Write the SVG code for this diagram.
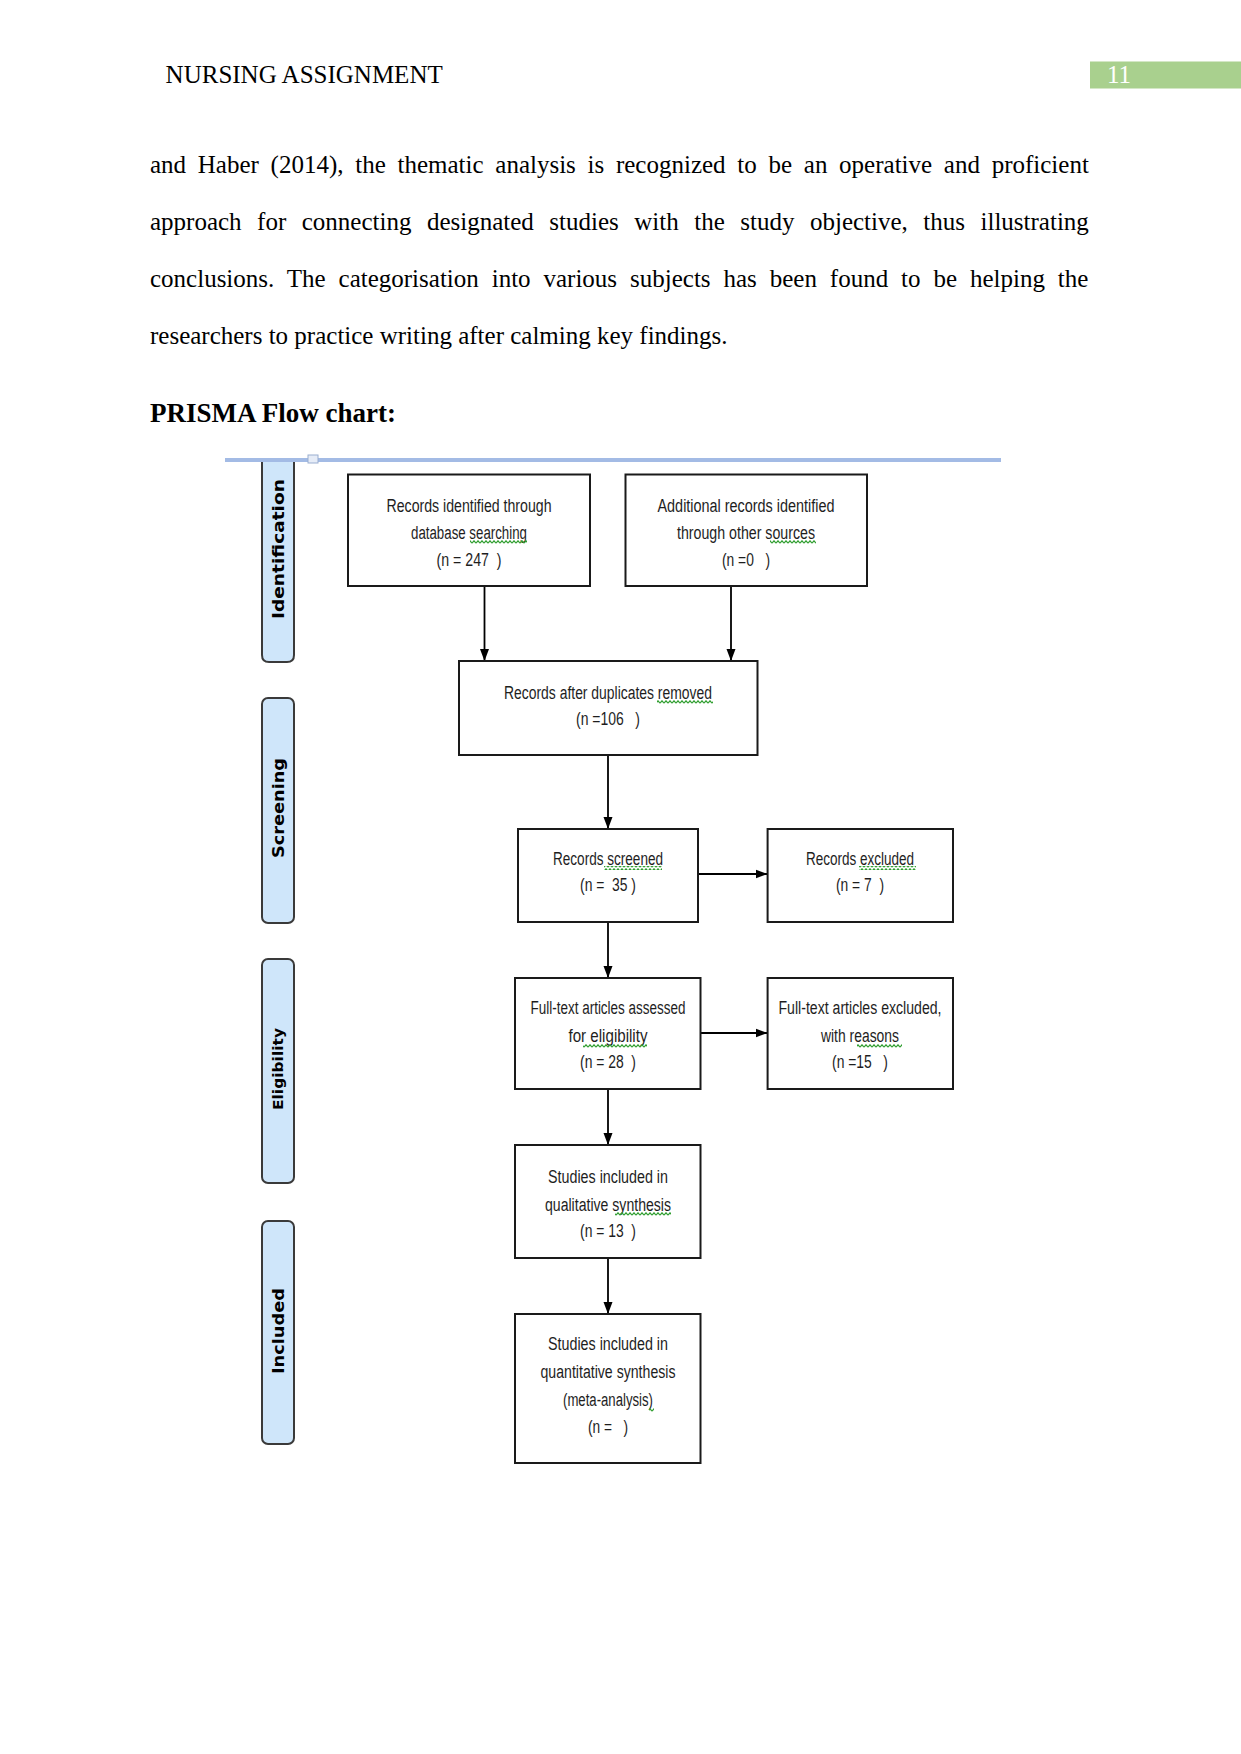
<svg xmlns="http://www.w3.org/2000/svg" width="1241" height="1754" viewBox="0 0 1241 1754">
<style>
.serif{font-family:"Liberation Serif","Times New Roman",serif;font-size:25px;fill:#000}
.bx{fill:#fff;stroke:#1a1a1a;stroke-width:2}
.bt{font-family:"Liberation Sans Narrow","Liberation Sans",Arial,sans-serif;font-size:18px;fill:#1e1e1e;text-anchor:middle;white-space:pre}
.bar{fill:#cfe6fa;stroke:#3a3a3a;stroke-width:2}
.bl{font-family:"DejaVu Sans",Verdana,sans-serif;font-weight:bold;font-size:16px;fill:#000;text-anchor:middle}
.cn{stroke:#000;stroke-width:1.8;fill:none;marker-end:url(#ah)}
.sq{fill:url(#wave)}
</style>
<defs>
<marker id="ah" markerUnits="userSpaceOnUse" markerWidth="12" markerHeight="10" refX="12" refY="5" orient="auto">
<path d="M0,0.5 L12,5 L0,9.5 z" fill="#000"/>
</marker>
<pattern id="wave" patternUnits="userSpaceOnUse" width="4" height="4">
<path d="M0,3.2 L2,0.8 L4,3.2" stroke="#2f9e2f" stroke-width="1.2" fill="none"/>
</pattern>
</defs>
<rect width="1241" height="1754" fill="#fff"/>

<!-- header -->
<text class="serif" x="165.6" y="83">NURSING ASSIGNMENT</text>
<rect x="1090" y="61.5" width="151" height="27" fill="#a9d08e"/>
<text class="serif" x="1107" y="83" style="fill:#fff">11</text>

<!-- body -->
<text class="serif" x="150" y="173" word-spacing="5.47">and Haber (2014), the thematic analysis is recognized to be an operative and proficient</text>
<text class="serif" x="150" y="230" word-spacing="9.25">approach for connecting designated studies with the study objective, thus illustrating</text>
<text class="serif" x="150" y="287" word-spacing="6.67">conclusions. The categorisation into various subjects has been found to be helping the</text>
<text class="serif" x="150" y="344">researchers to practice writing after calming key findings.</text>
<text class="serif" x="150" y="422" style="font-weight:bold;font-size:27px">PRISMA Flow chart:</text>

<!-- phase bars -->
<g id="phase-identification">
<path class="bar" d="M262,461 V655 Q262,662 269,662 H287 Q294,662 294,655 V461"/>
<text class="bl" transform="translate(284,549) rotate(-90)" textLength="140" lengthAdjust="spacingAndGlyphs">Identification</text>
</g>
<g id="phase-screening">
<rect class="bar" x="262" y="698" width="32" height="225" rx="6"/>
<text class="bl" transform="translate(284,808) rotate(-90)" textLength="100" lengthAdjust="spacingAndGlyphs">Screening</text>
</g>
<g id="phase-eligibility">
<rect class="bar" x="262" y="959" width="32" height="224" rx="6"/>
<text class="bl" transform="translate(283,1069) rotate(-90)" style="font-size:14px" textLength="82" lengthAdjust="spacingAndGlyphs">Eligibility</text>
</g>
<g id="phase-included">
<rect class="bar" x="262" y="1221" width="32" height="223" rx="6"/>
<text class="bl" transform="translate(284,1331) rotate(-90)" textLength="86" lengthAdjust="spacingAndGlyphs">Included</text>
</g>

<!-- top rule -->
<line x1="225" y1="460" x2="1001" y2="460" stroke="#a3bbe5" stroke-width="4"/>
<rect x="308" y="455" width="10" height="8" fill="#e6ecf7" stroke="#9aaed0" stroke-width="1"/>

<!-- connectors -->
<g id="connectors">
<line class="cn" x1="484.5" y1="586" x2="484.5" y2="661"/>
<line class="cn" x1="731" y1="586" x2="731" y2="661"/>
<line class="cn" x1="608" y1="755" x2="608" y2="829"/>
<line class="cn" x1="698" y1="874" x2="767.6" y2="874"/>
<line class="cn" x1="608" y1="922" x2="608" y2="978"/>
<line class="cn" x1="700.5" y1="1033" x2="767.6" y2="1033"/>
<line class="cn" x1="608" y1="1089" x2="608" y2="1145"/>
<line class="cn" x1="608" y1="1258" x2="608" y2="1314"/>
</g>

<!-- nodes -->
<g id="node-db">
<rect class="bx" x="348" y="474.5" width="242" height="111.5"/>
<text class="bt" x="469" y="512" textLength="165" lengthAdjust="spacingAndGlyphs">Records identified through</text>
<text class="bt" x="469" y="539" textLength="116" lengthAdjust="spacingAndGlyphs">database searching</text>
<text class="bt" x="469" y="566" textLength="65" lengthAdjust="spacingAndGlyphs">(n = 247  )</text>
<rect class="sq" x="470" y="540" width="57" height="4"/>
</g>
<g id="node-other">
<rect class="bx" x="625.5" y="474.5" width="241.5" height="111.5"/>
<text class="bt" x="746" y="512" textLength="177" lengthAdjust="spacingAndGlyphs">Additional records identified</text>
<text class="bt" x="746" y="539" textLength="138" lengthAdjust="spacingAndGlyphs">through other sources</text>
<text class="bt" x="746" y="566" textLength="48" lengthAdjust="spacingAndGlyphs">(n =0   )</text>
<rect class="sq" x="770" y="540" width="46" height="4"/>
</g>
<g id="node-dedup">
<rect class="bx" x="459" y="661" width="298.5" height="94"/>
<text class="bt" x="608" y="699" textLength="208" lengthAdjust="spacingAndGlyphs">Records after duplicates removed</text>
<text class="bt" x="608" y="725" textLength="64" lengthAdjust="spacingAndGlyphs">(n =106   )</text>
<rect class="sq" x="657" y="700" width="56" height="4"/>
</g>
<g id="node-screened">
<rect class="bx" x="518" y="829" width="180" height="93"/>
<text class="bt" x="608" y="865" textLength="110" lengthAdjust="spacingAndGlyphs">Records screened</text>
<text class="bt" x="608" y="891" textLength="56" lengthAdjust="spacingAndGlyphs">(n =  35 )</text>
<rect class="sq" x="604" y="866" width="58" height="4"/>
</g>
<g id="node-excluded">
<rect class="bx" x="767.6" y="829" width="185.4" height="93"/>
<text class="bt" x="860" y="865" textLength="108" lengthAdjust="spacingAndGlyphs">Records excluded</text>
<text class="bt" x="860" y="891" textLength="48" lengthAdjust="spacingAndGlyphs">(n = 7  )</text>
<rect class="sq" x="859" y="866" width="57" height="4"/>
</g>
<g id="node-fulltext">
<rect class="bx" x="515" y="978" width="185.5" height="111"/>
<text class="bt" x="608" y="1014" textLength="155" lengthAdjust="spacingAndGlyphs">Full-text articles assessed</text>
<text class="bt" x="608" y="1042" textLength="79" lengthAdjust="spacingAndGlyphs">for eligibility</text>
<text class="bt" x="608" y="1068" textLength="56" lengthAdjust="spacingAndGlyphs">(n = 28  )</text>
<rect class="sq" x="583" y="1044" width="64" height="4"/>
</g>
<g id="node-ft-excluded">
<rect class="bx" x="767.6" y="978" width="185.4" height="111"/>
<text class="bt" x="860" y="1014" textLength="163" lengthAdjust="spacingAndGlyphs">Full-text articles excluded,</text>
<text class="bt" x="860" y="1042" textLength="78" lengthAdjust="spacingAndGlyphs">with reasons</text>
<text class="bt" x="860" y="1068" textLength="56" lengthAdjust="spacingAndGlyphs">(n =15   )</text>
<rect class="sq" x="857" y="1044" width="45" height="4"/>
</g>
<g id="node-qualitative">
<rect class="bx" x="515" y="1145" width="185.5" height="113"/>
<text class="bt" x="608" y="1183" textLength="120" lengthAdjust="spacingAndGlyphs">Studies included in</text>
<text class="bt" x="608" y="1211" textLength="126" lengthAdjust="spacingAndGlyphs">qualitative synthesis</text>
<text class="bt" x="608" y="1237" textLength="56" lengthAdjust="spacingAndGlyphs">(n = 13  )</text>
<rect class="sq" x="615" y="1212" width="56" height="4"/>
</g>
<g id="node-quantitative">
<rect class="bx" x="515" y="1314" width="185.5" height="149"/>
<text class="bt" x="608" y="1350" textLength="120" lengthAdjust="spacingAndGlyphs">Studies included in</text>
<text class="bt" x="608" y="1378" textLength="135" lengthAdjust="spacingAndGlyphs">quantitative synthesis</text>
<text class="bt" x="608" y="1406" textLength="90" lengthAdjust="spacingAndGlyphs">(meta-analysis)</text>
<text class="bt" x="608" y="1433" textLength="40" lengthAdjust="spacingAndGlyphs">(n =   )</text>
<rect class="sq" x="649" y="1408" width="5" height="4"/>
</g>
</svg>
